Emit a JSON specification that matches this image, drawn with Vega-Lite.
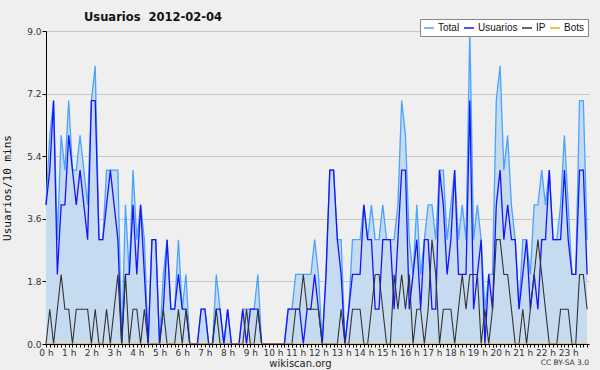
{
  "$schema": "https://vega.github.io/schema/vega-lite/v6.json",
  "width": 543,
  "height": 313,
  "autosize": {"type": "none"},
  "padding": {"left": 46, "top": 31, "right": 11, "bottom": 26},
  "background": "#efefef",
  "title": {"text": "Usuarios\u00a0 2012-02-04", "anchor": "start", "frame": "group", "dx": 38, "dy": 14, "offset": 9, "font": "DejaVu Sans", "fontSize": 11.5, "fontWeight": "bold", "color": "#111111"},
  "config": {"view": {"stroke": null, "fill": "#efefef"}},
  "data": {"values": [
    {"m":0,"Total":4,"Usuarios":4,"IP":0,"Bots":0},
    {"m":10,"Total":6,"Usuarios":5,"IP":1,"Bots":0},
    {"m":20,"Total":7,"Usuarios":7,"IP":0,"Bots":0},
    {"m":30,"Total":3,"Usuarios":2,"IP":1,"Bots":0},
    {"m":40,"Total":6,"Usuarios":4,"IP":2,"Bots":0},
    {"m":50,"Total":5,"Usuarios":4,"IP":1,"Bots":0},
    {"m":60,"Total":7,"Usuarios":6,"IP":1,"Bots":0},
    {"m":70,"Total":5,"Usuarios":5,"IP":0,"Bots":0},
    {"m":80,"Total":5,"Usuarios":4,"IP":1,"Bots":0},
    {"m":90,"Total":6,"Usuarios":5,"IP":1,"Bots":0},
    {"m":100,"Total":5,"Usuarios":4,"IP":1,"Bots":0},
    {"m":110,"Total":4,"Usuarios":3,"IP":1,"Bots":0},
    {"m":120,"Total":7,"Usuarios":7,"IP":0,"Bots":0},
    {"m":130,"Total":8,"Usuarios":7,"IP":1,"Bots":0},
    {"m":140,"Total":3,"Usuarios":3,"IP":0,"Bots":0},
    {"m":150,"Total":3,"Usuarios":3,"IP":0,"Bots":0},
    {"m":160,"Total":5,"Usuarios":4,"IP":1,"Bots":0},
    {"m":170,"Total":5,"Usuarios":5,"IP":0,"Bots":0},
    {"m":180,"Total":5,"Usuarios":4,"IP":1,"Bots":0},
    {"m":190,"Total":5,"Usuarios":3,"IP":2,"Bots":0},
    {"m":200,"Total":0,"Usuarios":0,"IP":0,"Bots":0},
    {"m":210,"Total":4,"Usuarios":2,"IP":2,"Bots":0},
    {"m":220,"Total":2,"Usuarios":2,"IP":0,"Bots":0},
    {"m":230,"Total":5,"Usuarios":4,"IP":1,"Bots":0},
    {"m":240,"Total":3,"Usuarios":2,"IP":1,"Bots":0},
    {"m":250,"Total":4,"Usuarios":4,"IP":0,"Bots":0},
    {"m":260,"Total":3,"Usuarios":2,"IP":1,"Bots":0},
    {"m":270,"Total":0,"Usuarios":0,"IP":0,"Bots":0},
    {"m":280,"Total":3,"Usuarios":3,"IP":0,"Bots":0},
    {"m":290,"Total":3,"Usuarios":3,"IP":0,"Bots":0},
    {"m":300,"Total":0,"Usuarios":0,"IP":0,"Bots":0},
    {"m":310,"Total":2,"Usuarios":1,"IP":1,"Bots":0},
    {"m":320,"Total":3,"Usuarios":3,"IP":0,"Bots":0},
    {"m":330,"Total":1,"Usuarios":1,"IP":0,"Bots":0},
    {"m":340,"Total":1,"Usuarios":1,"IP":0,"Bots":0},
    {"m":350,"Total":3,"Usuarios":2,"IP":1,"Bots":0},
    {"m":360,"Total":1,"Usuarios":1,"IP":0,"Bots":0},
    {"m":370,"Total":2,"Usuarios":1,"IP":1,"Bots":0},
    {"m":380,"Total":0,"Usuarios":0,"IP":0,"Bots":0},
    {"m":390,"Total":0,"Usuarios":0,"IP":0,"Bots":0},
    {"m":400,"Total":0,"Usuarios":0,"IP":0,"Bots":0},
    {"m":410,"Total":1,"Usuarios":1,"IP":0,"Bots":0},
    {"m":420,"Total":1,"Usuarios":1,"IP":0,"Bots":0},
    {"m":430,"Total":0,"Usuarios":0,"IP":0,"Bots":0},
    {"m":440,"Total":0,"Usuarios":0,"IP":0,"Bots":0},
    {"m":450,"Total":2,"Usuarios":1,"IP":1,"Bots":0},
    {"m":460,"Total":1,"Usuarios":1,"IP":0,"Bots":0},
    {"m":470,"Total":0,"Usuarios":0,"IP":0,"Bots":0},
    {"m":480,"Total":1,"Usuarios":1,"IP":0,"Bots":0},
    {"m":490,"Total":0,"Usuarios":0,"IP":0,"Bots":0},
    {"m":500,"Total":0,"Usuarios":0,"IP":0,"Bots":0},
    {"m":510,"Total":0,"Usuarios":0,"IP":0,"Bots":0},
    {"m":520,"Total":1,"Usuarios":1,"IP":0,"Bots":0},
    {"m":530,"Total":1,"Usuarios":0,"IP":1,"Bots":0},
    {"m":540,"Total":1,"Usuarios":1,"IP":0,"Bots":0},
    {"m":550,"Total":1,"Usuarios":1,"IP":0,"Bots":0},
    {"m":560,"Total":2,"Usuarios":1,"IP":1,"Bots":0},
    {"m":570,"Total":0,"Usuarios":0,"IP":0,"Bots":0},
    {"m":580,"Total":0,"Usuarios":0,"IP":0,"Bots":0},
    {"m":590,"Total":0,"Usuarios":0,"IP":0,"Bots":0},
    {"m":600,"Total":0,"Usuarios":0,"IP":0,"Bots":0},
    {"m":610,"Total":0,"Usuarios":0,"IP":0,"Bots":0},
    {"m":620,"Total":0,"Usuarios":0,"IP":0,"Bots":0},
    {"m":630,"Total":0,"Usuarios":0,"IP":0,"Bots":0},
    {"m":640,"Total":1,"Usuarios":1,"IP":0,"Bots":0},
    {"m":650,"Total":1,"Usuarios":1,"IP":0,"Bots":0},
    {"m":660,"Total":2,"Usuarios":1,"IP":1,"Bots":0},
    {"m":670,"Total":2,"Usuarios":1,"IP":1,"Bots":0},
    {"m":680,"Total":2,"Usuarios":0,"IP":2,"Bots":0},
    {"m":690,"Total":2,"Usuarios":1,"IP":1,"Bots":0},
    {"m":700,"Total":2,"Usuarios":1,"IP":1,"Bots":0},
    {"m":710,"Total":3,"Usuarios":2,"IP":1,"Bots":0},
    {"m":720,"Total":2,"Usuarios":1,"IP":1,"Bots":0},
    {"m":730,"Total":0,"Usuarios":0,"IP":0,"Bots":0},
    {"m":740,"Total":2,"Usuarios":2,"IP":0,"Bots":0},
    {"m":750,"Total":5,"Usuarios":5,"IP":0,"Bots":0},
    {"m":760,"Total":5,"Usuarios":5,"IP":0,"Bots":0},
    {"m":770,"Total":3,"Usuarios":3,"IP":0,"Bots":0},
    {"m":780,"Total":3,"Usuarios":2,"IP":1,"Bots":0},
    {"m":790,"Total":0,"Usuarios":0,"IP":0,"Bots":0},
    {"m":800,"Total":1,"Usuarios":1,"IP":0,"Bots":0},
    {"m":810,"Total":3,"Usuarios":2,"IP":1,"Bots":0},
    {"m":820,"Total":3,"Usuarios":2,"IP":1,"Bots":0},
    {"m":830,"Total":3,"Usuarios":2,"IP":1,"Bots":0},
    {"m":840,"Total":4,"Usuarios":4,"IP":0,"Bots":0},
    {"m":850,"Total":3,"Usuarios":3,"IP":0,"Bots":0},
    {"m":860,"Total":4,"Usuarios":3,"IP":1,"Bots":0},
    {"m":870,"Total":3,"Usuarios":1,"IP":2,"Bots":0},
    {"m":880,"Total":3,"Usuarios":1,"IP":2,"Bots":0},
    {"m":890,"Total":4,"Usuarios":3,"IP":1,"Bots":0},
    {"m":900,"Total":3,"Usuarios":3,"IP":0,"Bots":0},
    {"m":910,"Total":3,"Usuarios":3,"IP":0,"Bots":0},
    {"m":920,"Total":3,"Usuarios":1,"IP":2,"Bots":0},
    {"m":930,"Total":4,"Usuarios":3,"IP":1,"Bots":0},
    {"m":940,"Total":7,"Usuarios":5,"IP":2,"Bots":0},
    {"m":950,"Total":6,"Usuarios":5,"IP":1,"Bots":0},
    {"m":960,"Total":3,"Usuarios":1,"IP":2,"Bots":0},
    {"m":970,"Total":2,"Usuarios":2,"IP":0,"Bots":0},
    {"m":980,"Total":4,"Usuarios":3,"IP":1,"Bots":0},
    {"m":990,"Total":2,"Usuarios":1,"IP":1,"Bots":0},
    {"m":1000,"Total":3,"Usuarios":3,"IP":0,"Bots":0},
    {"m":1010,"Total":4,"Usuarios":3,"IP":1,"Bots":0},
    {"m":1020,"Total":4,"Usuarios":1,"IP":3,"Bots":0},
    {"m":1030,"Total":3,"Usuarios":1,"IP":2,"Bots":0},
    {"m":1040,"Total":5,"Usuarios":5,"IP":0,"Bots":0},
    {"m":1050,"Total":5,"Usuarios":4,"IP":1,"Bots":0},
    {"m":1060,"Total":3,"Usuarios":2,"IP":1,"Bots":0},
    {"m":1070,"Total":4,"Usuarios":3,"IP":1,"Bots":0},
    {"m":1080,"Total":5,"Usuarios":5,"IP":0,"Bots":0},
    {"m":1090,"Total":3,"Usuarios":2,"IP":1,"Bots":0},
    {"m":1100,"Total":4,"Usuarios":2,"IP":2,"Bots":0},
    {"m":1110,"Total":3,"Usuarios":2,"IP":1,"Bots":0},
    {"m":1120,"Total":9,"Usuarios":7,"IP":2,"Bots":0},
    {"m":1130,"Total":3,"Usuarios":1,"IP":2,"Bots":0},
    {"m":1140,"Total":4,"Usuarios":2,"IP":2,"Bots":0},
    {"m":1150,"Total":3,"Usuarios":3,"IP":0,"Bots":0},
    {"m":1160,"Total":1,"Usuarios":0,"IP":1,"Bots":0},
    {"m":1170,"Total":2,"Usuarios":2,"IP":0,"Bots":0},
    {"m":1180,"Total":2,"Usuarios":1,"IP":1,"Bots":0},
    {"m":1190,"Total":7,"Usuarios":4,"IP":3,"Bots":0},
    {"m":1200,"Total":8,"Usuarios":5,"IP":3,"Bots":0},
    {"m":1210,"Total":5,"Usuarios":3,"IP":2,"Bots":0},
    {"m":1220,"Total":6,"Usuarios":4,"IP":2,"Bots":0},
    {"m":1230,"Total":4,"Usuarios":3,"IP":1,"Bots":0},
    {"m":1240,"Total":3,"Usuarios":3,"IP":0,"Bots":0},
    {"m":1250,"Total":1,"Usuarios":1,"IP":0,"Bots":0},
    {"m":1260,"Total":3,"Usuarios":2,"IP":1,"Bots":0},
    {"m":1270,"Total":3,"Usuarios":3,"IP":0,"Bots":0},
    {"m":1280,"Total":2,"Usuarios":1,"IP":1,"Bots":0},
    {"m":1290,"Total":4,"Usuarios":2,"IP":2,"Bots":0},
    {"m":1300,"Total":4,"Usuarios":1,"IP":3,"Bots":0},
    {"m":1310,"Total":5,"Usuarios":3,"IP":2,"Bots":0},
    {"m":1320,"Total":4,"Usuarios":3,"IP":1,"Bots":0},
    {"m":1330,"Total":5,"Usuarios":5,"IP":0,"Bots":0},
    {"m":1340,"Total":3,"Usuarios":3,"IP":0,"Bots":0},
    {"m":1350,"Total":3,"Usuarios":3,"IP":0,"Bots":0},
    {"m":1360,"Total":4,"Usuarios":3,"IP":1,"Bots":0},
    {"m":1370,"Total":6,"Usuarios":5,"IP":1,"Bots":0},
    {"m":1380,"Total":4,"Usuarios":3,"IP":1,"Bots":0},
    {"m":1390,"Total":2,"Usuarios":2,"IP":0,"Bots":0},
    {"m":1400,"Total":2,"Usuarios":2,"IP":0,"Bots":0},
    {"m":1410,"Total":7,"Usuarios":5,"IP":2,"Bots":0},
    {"m":1420,"Total":7,"Usuarios":5,"IP":2,"Bots":0},
    {"m":1430,"Total":3,"Usuarios":2,"IP":1,"Bots":0}
  ]},
  "layer": [
    {
      "encoding": {
        "x": {
          "field": "m", "type": "quantitative",
          "scale": {"domain": [0, 1435], "nice": false, "zero": false},
          "axis": {
            "title": "wikiscan.org", "titleFont": "DejaVu Sans", "titleFontSize": 10, "titleFontWeight": "normal", "titleColor": "#222222", "titlePadding": 1, "titleX": 254,
            "values": [0,10,20,30,40,50,60,70,80,90,100,110,120,130,140,150,160,170,180,190,200,210,220,230,240,250,260,270,280,290,300,310,320,330,340,350,360,370,380,390,400,410,420,430,440,450,460,470,480,490,500,510,520,530,540,550,560,570,580,590,600,610,620,630,640,650,660,670,680,690,700,710,720,730,740,750,760,770,780,790,800,810,820,830,840,850,860,870,880,890,900,910,920,930,940,950,960,970,980,990,1000,1010,1020,1030,1040,1050,1060,1070,1080,1090,1100,1110,1120,1130,1140,1150,1160,1170,1180,1190,1200,1210,1220,1230,1240,1250,1260,1270,1280,1290,1300,1310,1320,1330,1340,1350,1360,1370,1380,1390,1400,1410,1420,1430],
            "labelExpr": "datum.value % 60 == 0 ? (datum.value / 60) + ' h' : ''",
            "labelOverlap": false, "labelFlush": false, "labelFont": "DejaVu Sans", "labelFontSize": 9, "labelColor": "#333333", "labelPadding": 1,
            "tickSize": 3, "tickColor": "#000000", "domainColor": "#000000", "grid": false, "zindex": 1
          }
        }
      },
      "layer": [
        {
          "mark": {"type": "area", "color": "#c6dbef", "opacity": 1},
          "encoding": {
            "y": {
              "field": "Total", "type": "quantitative",
              "scale": {"domain": [0, 9], "nice": false},
              "axis": {
                "title": "Usuarios/10 mins", "titleFont": "DejaVu Sans Mono", "titleFontSize": 11, "titleFontWeight": "normal", "titleColor": "#111111", "titlePadding": 14,
                "values": [0,0.9,1.8,2.7,3.6,4.5,5.4,6.3,7.2,8.1,9],
                "labelExpr": "round(datum.value * 10) % 18 == 0 ? format(datum.value, '.1f') : ''",
                "labelFont": "DejaVu Sans", "labelFontSize": 9, "labelColor": "#333333", "labelPadding": 1,
                "tickSize": 4, "tickColor": "#000000", "domainColor": "#000000",
                "grid": true, "gridColor": "#c8c8c8",
                "gridOpacity": {"condition": {"test": "round(datum.value * 10) % 18 == 0", "value": 1}, "value": 0}
              }
            }
          }
        },
        {
          "mark": {"type": "line", "strokeWidth": 1.3},
          "encoding": {
            "y": {"field": "Total", "type": "quantitative"},
            "color": {
              "datum": "Total", "type": "nominal",
              "scale": {"domain": ["Total", "Usuarios", "IP", "Bots"], "range": ["#4aa3ff", "#1414ff", "#333333", "#ffa500"]},
              "legend": {
                "orient": "none", "legendX": 374, "legendY": -12, "direction": "horizontal", "title": null,
                "fillColor": "#ffffff", "strokeColor": "#888888", "padding": 3,
                "symbolType": "stroke", "symbolSize": 100, "symbolStrokeWidth": 1.5,
                "labelFont": "Liberation Sans", "labelFontSize": 10, "labelColor": "#111111", "labelOffset": 3, "columnPadding": 1
              }
            }
          }
        },
        {
          "mark": {"type": "line", "strokeWidth": 1.3},
          "encoding": {
            "y": {"field": "Usuarios", "type": "quantitative"},
            "color": {"datum": "Usuarios", "type": "nominal"}
          }
        },
        {
          "mark": {"type": "line", "strokeWidth": 1.1},
          "encoding": {
            "y": {"field": "IP", "type": "quantitative"},
            "color": {"datum": "IP", "type": "nominal"}
          }
        },
        {
          "mark": {"type": "line", "strokeWidth": 1.1},
          "encoding": {
            "y": {"field": "Bots", "type": "quantitative"},
            "color": {"datum": "Bots", "type": "nominal"}
          }
        }
      ]
    },
    {
      "data": {"values": [{"nota": "CC BY-SA 3.0"}]},
      "mark": {"type": "text", "align": "right", "baseline": "middle", "dy": 19, "font": "DejaVu Sans", "fontSize": 7.5, "fill": "#333333"},
      "encoding": {
        "x": {
          "datum": 1435, "type": "quantitative",
          "axis": {
            "title": "wikiscan.org", "titleFont": "DejaVu Sans", "titleFontSize": 10, "titleFontWeight": "normal", "titleColor": "#222222", "titlePadding": 1, "titleX": 254,
            "values": [0,10,20,30,40,50,60,70,80,90,100,110,120,130,140,150,160,170,180,190,200,210,220,230,240,250,260,270,280,290,300,310,320,330,340,350,360,370,380,390,400,410,420,430,440,450,460,470,480,490,500,510,520,530,540,550,560,570,580,590,600,610,620,630,640,650,660,670,680,690,700,710,720,730,740,750,760,770,780,790,800,810,820,830,840,850,860,870,880,890,900,910,920,930,940,950,960,970,980,990,1000,1010,1020,1030,1040,1050,1060,1070,1080,1090,1100,1110,1120,1130,1140,1150,1160,1170,1180,1190,1200,1210,1220,1230,1240,1250,1260,1270,1280,1290,1300,1310,1320,1330,1340,1350,1360,1370,1380,1390,1400,1410,1420,1430],
            "labelExpr": "datum.value % 60 == 0 ? (datum.value / 60) + ' h' : ''",
            "labelOverlap": false, "labelFlush": false, "labelFont": "DejaVu Sans", "labelFontSize": 9, "labelColor": "#333333", "labelPadding": 1,
            "tickSize": 3, "tickColor": "#000000", "domainColor": "#000000", "grid": false, "zindex": 1
          }
        },
        "y": {
          "datum": 0, "type": "quantitative",
          "axis": {
            "title": "Usuarios/10 mins", "titleFont": "DejaVu Sans Mono", "titleFontSize": 11, "titleFontWeight": "normal", "titleColor": "#111111", "titlePadding": 14,
            "values": [0,0.9,1.8,2.7,3.6,4.5,5.4,6.3,7.2,8.1,9],
            "labelExpr": "round(datum.value * 10) % 18 == 0 ? format(datum.value, '.1f') : ''",
            "labelFont": "DejaVu Sans", "labelFontSize": 9, "labelColor": "#333333", "labelPadding": 1,
            "tickSize": 4, "tickColor": "#000000", "domainColor": "#000000",
            "grid": true, "gridColor": "#c8c8c8",
            "gridOpacity": {"condition": {"test": "round(datum.value * 10) % 18 == 0", "value": 1}, "value": 0}
          }
        },
        "text": {"field": "nota", "type": "nominal"}
      }
    }
  ]
}
